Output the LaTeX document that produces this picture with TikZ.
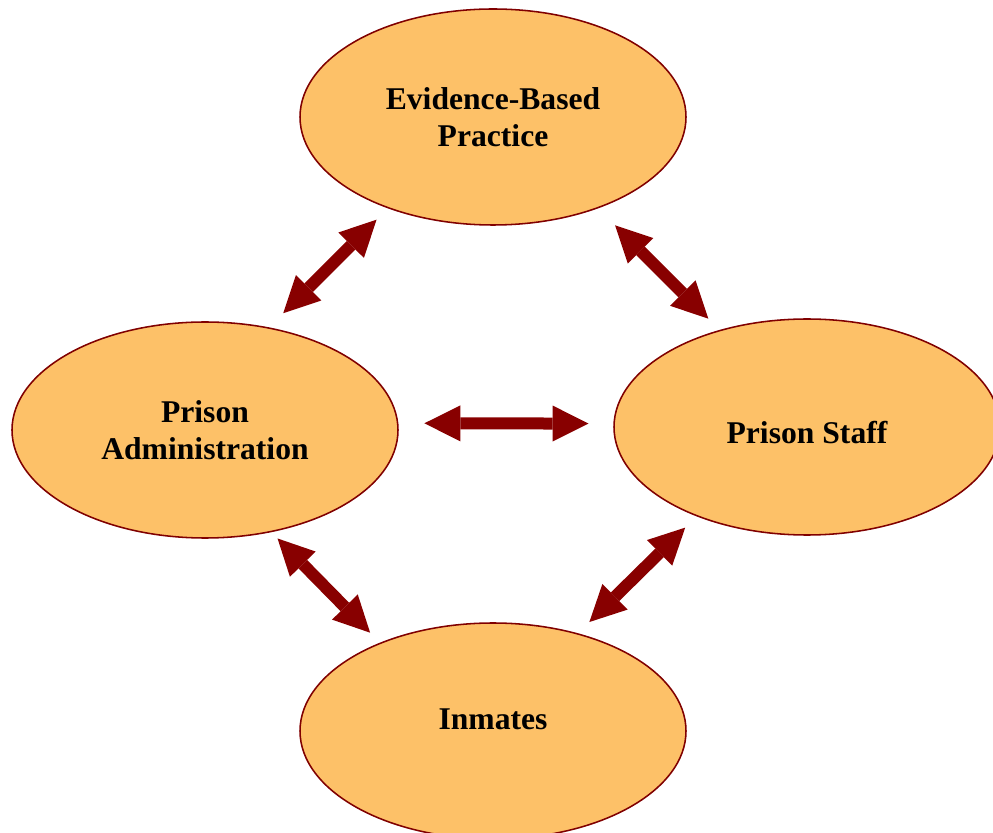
\documentclass[tikz,border=0pt]{standalone}
\usepackage{fontspec}
\setmainfont{Liberation Serif}
\usetikzlibrary{shapes.geometric, arrows.meta}
\definecolor{partyfill}{RGB}{253,193,104}
\definecolor{partyline}{RGB}{128,0,0}
\definecolor{linkred}{RGB}{136,0,0}

\begin{document}
\begin{tikzpicture}[
    party/.style={ellipse, draw=partyline, line width=1.1pt, fill=partyfill,
                  minimum width=9.65cm, minimum height=5.4cm, inner sep=0pt, align=center,
                  font=\bfseries\fontsize{22.5}{26.6}\selectfont},
    link/.style={{Triangle[length=0.9cm, width=0.9cm, line width=0pt]}-{Triangle[length=0.9cm, width=0.9cm, line width=0pt]},
                 draw=linkred, line width=0.3cm, shorten <=0.4cm, shorten >=0.4cm}]

    \useasboundingbox (0,0) rectangle (24.825,-20.825);

    % Parties
    \node[party] (ebp) at (12.325,-2.925) {Evidence-Based\\Practice};
    \node[party] (admin) at (5.125,-10.75) {Prison\\Administration};
    \node[party, text height=23.5pt, text depth=0pt] (staff) at (20.175,-10.675) {Prison Staff};
    \node[party, text height=15pt, text depth=17pt] (inm) at (12.325,-18.275) {Inmates};

    % Arrows
    \draw[link, shorten <=0.5cm] (admin.58) -- (ebp.221);
    \draw[link, shorten <=0.6cm] (ebp.319) -- (staff.132);
    \draw[link, shorten <=0.65cm, shorten >=0.62cm] (admin.2) -- (staff.179);
    \draw[link, shorten <=0.22cm, shorten >=0.35cm] (admin.303) -- (inm.142);
    \draw[link] (staff.219) -- (inm.49);
\end{tikzpicture}
\end{document}
